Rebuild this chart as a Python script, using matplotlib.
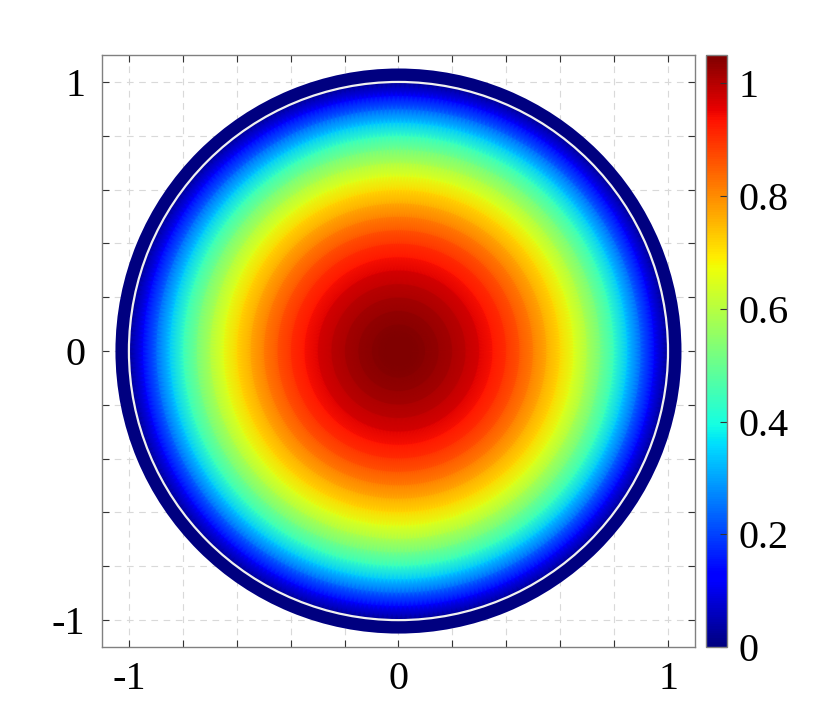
import numpy as np
import matplotlib
matplotlib.use("Agg")
import matplotlib.pyplot as plt
from matplotlib.patches import Circle, Wedge

plt.rcParams['font.family'] = ['Liberation Serif', 'DejaVu Serif']

# radial profile (value vs radius)
radius = [0.00, 0.05, 0.10, 0.15, 0.20, 0.25, 0.30, 0.35, 0.40, 0.45, 0.50,
          0.55, 0.60, 0.65, 0.70, 0.75, 0.80, 0.85, 0.90, 0.95, 1.00]
value = [1.050, 1.048, 1.040, 1.027, 1.010, 0.990, 0.965, 0.935, 0.900, 0.860,
         0.815, 0.765, 0.715, 0.655, 0.590, 0.515, 0.435, 0.340, 0.235, 0.120, 0.020]
vmax = 1.05
ring_outer = 1.05
ticks = [-1.0, -0.8, -0.6, -0.4, -0.2, 0.0, 0.2, 0.4, 0.6, 0.8, 1.0]
tick_labels = ['-1', '', '', '', '', '0', '', '', '', '', '1']
cbar_ticks = [0, 0.2, 0.4, 0.6, 0.8, 1.0]
cbar_labels = ['0', '0.2', '0.4', '0.6', '0.8', '1']

fig = plt.figure(figsize=(8.31, 7.27), dpi=100)
ax = fig.add_axes([0.1227, 0.110, 0.7136, 0.8143])
cax = fig.add_axes([0.8496, 0.110, 0.0253, 0.8143])

cmap = plt.get_cmap('jet')

# polar mesh: one ring of vertices per profile radius
theta = np.linspace(0, 2 * np.pi, 361)
R = np.array(radius)[:, None]
X = R * np.cos(theta)[None, :]
Y = R * np.sin(theta)[None, :]
C = np.broadcast_to(np.array(value)[:, None], X.shape)
mesh = ax.pcolormesh(X, Y, C, cmap=cmap, vmin=0, vmax=vmax,
                     shading='gouraud', zorder=2)

# zero band outside the unit circle and the white boundary line
ax.add_patch(Wedge((0, 0), ring_outer, 0, 360, width=ring_outer - 1.0,
                   facecolor=cmap(0.0), edgecolor='none', zorder=3))
ax.add_patch(Circle((0, 0), 1.0, fill=False, edgecolor='#f0f0f0', lw=1.6, zorder=4))

ax.set_xlim(-1.1, 1.1)
ax.set_ylim(-1.1, 1.1)
ax.set_xticks(ticks)
ax.set_yticks(ticks)
ax.set_xticklabels(tick_labels)
ax.set_yticklabels(tick_labels)
ax.tick_params(direction='in', length=5, width=0.8, color='#333333',
               top=True, right=True, labelsize=29, pad=10)
ax.tick_params(axis='y', pad=12)
ax.grid(True, ls=(0, (6, 5)), color='#d9d9d9', lw=0.8, zorder=0)
ax.set_axisbelow(True)
for s in ax.spines.values():
    s.set_color('#808080')
    s.set_linewidth(1.0)

cb = fig.colorbar(mesh, cax=cax, ticks=cbar_ticks)
cb.ax.set_yticklabels(cbar_labels)
cb.ax.tick_params(direction='in', length=5, width=0.8, color='#333333',
                  labelsize=29, pad=8)
cb.outline.set_edgecolor('#808080')
cb.outline.set_linewidth(1.0)

fig.savefig('out.png', dpi=100)
